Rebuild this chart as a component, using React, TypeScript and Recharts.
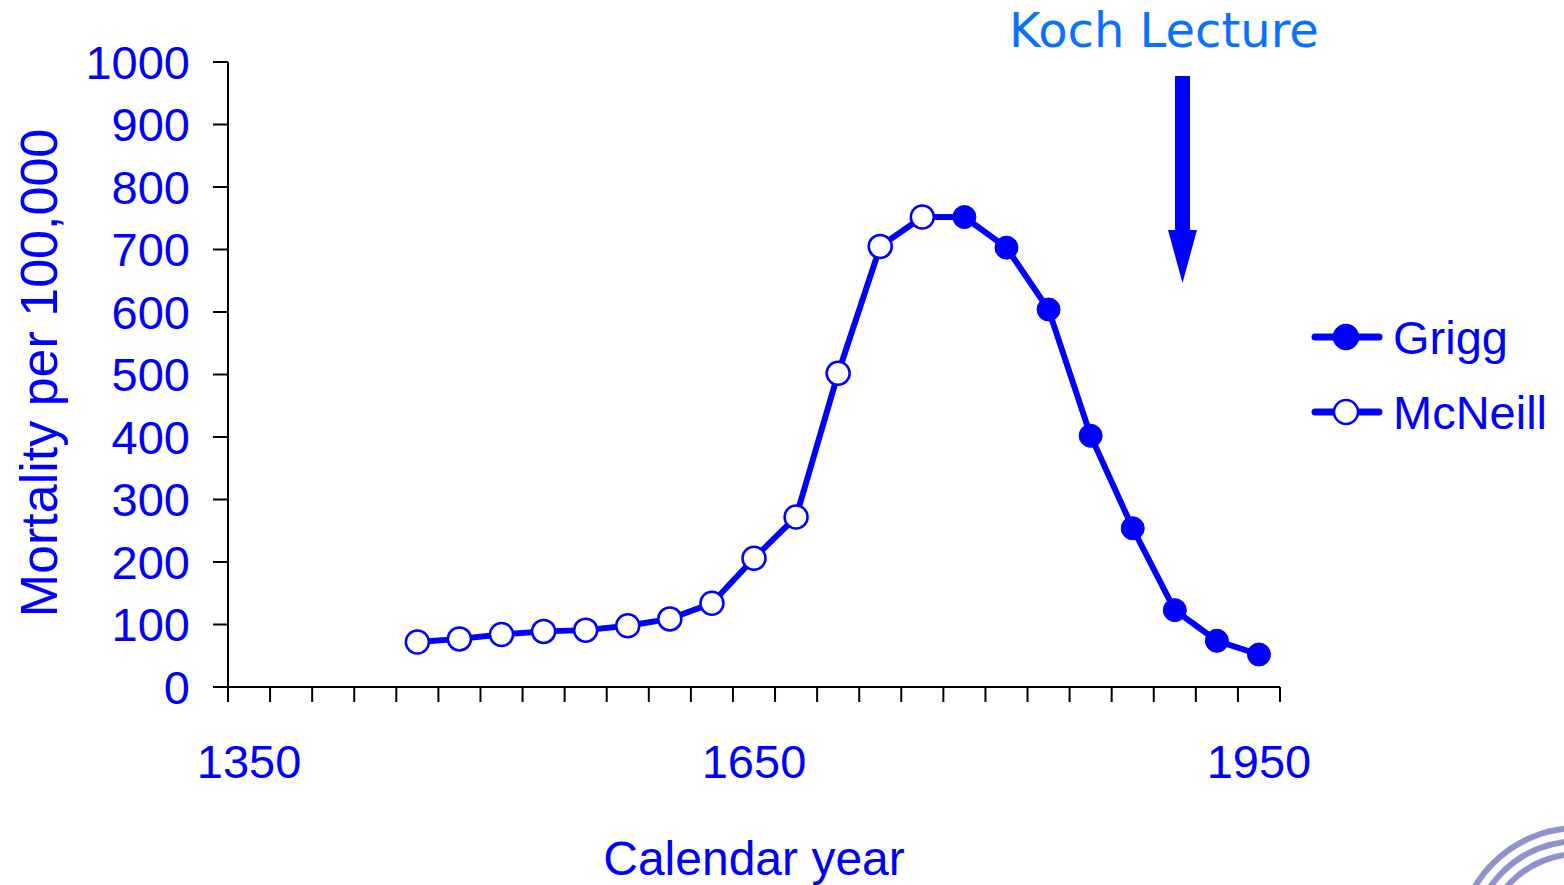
import React from 'react'
import { Legend, Line, LineChart, XAxis, YAxis } from 'recharts'

// categories along the year axis (25-year periods)
const periods = [
  1350, 1375, 1400, 1425, 1450, 1475, 1500, 1525, 1550, 1575, 1600, 1625, 1650,
  1675, 1700, 1725, 1750, 1775, 1800, 1825, 1850, 1875, 1900, 1925, 1950,
]
const years = [
  1450, 1475, 1500, 1525, 1550, 1575, 1600, 1625, 1650, 1675, 1700, 1725, 1750,
  1775, 1800, 1825, 1850, 1875, 1900, 1925, 1950,
]
// McNeill (open circles), Grigg (filled circles); Grigg picks up where McNeill ends
const mcneill = [72, 77, 84, 89, 91, 98, 109, 134, 206, 272, 502, 705, 752, null, null, null, null, null, null, null, null]
const grigg = [null, null, null, null, null, null, null, null, null, null, null, null, 752, 752, 703, 604, 402, 254, 123, 74, 52]

const yTicks = [0, 100, 200, 300, 400, 500, 600, 700, 800, 900, 1000]
const yearLabels = [1350, 1650, 1950]

const BLUE = '#0000ff'
const FONT = '"Liberation Sans", Arial, sans-serif'

const data = years.map((year, i) => ({ year, mcneill: mcneill[i], grigg: grigg[i] }))

// tick marks sit between the period categories, like the original spreadsheet chart
const tickEdges = periods.map((p) => p - 12.5).concat(periods[periods.length - 1] + 12.5)
const domain: [number, number] = [tickEdges[0], tickEdges[tickEdges.length - 1]]

const openDot = (props: any) => {
  if (props.value == null || props.cy == null) return <g key={`m-${props.index}`} />
  return <circle key={`m-${props.index}`} cx={props.cx} cy={props.cy} r={11.5} fill="#fff" stroke={BLUE} strokeWidth={2.5} />
}

const filledDot = (props: any) => {
  if (props.value == null || props.cy == null || props.payload.mcneill != null) return <g key={`g-${props.index}`} />
  return <circle key={`g-${props.index}`} cx={props.cx} cy={props.cy} r={11.5} fill={BLUE} stroke={BLUE} strokeWidth={1} />
}

const LegendBox = (props: any) => {
  const items = props.payload || []
  return (
    <svg width={254} height={150}>
      {items.map((item: any, i: number) => {
        const cy = 27 + i * 75
        const filled = item.dataKey === 'grigg'
        return (
          <g key={item.value}>
            <line x1={10} x2={74} y1={cy} y2={cy} stroke={BLUE} strokeWidth={7} strokeLinecap="round" />
            <circle cx={41} cy={cy} r={12} fill={filled ? BLUE : '#fff'} stroke={BLUE} strokeWidth={2.5} />
            <text x={88} y={cy + 17} fill={BLUE} fontSize={47} fontFamily={FONT}>
              {item.value}
            </text>
          </g>
        )
      })}
    </svg>
  )
}

const YearTick = (props: any) => (
  <text x={props.x} y={props.y + 68} textAnchor="middle" fill={BLUE} fontSize={47} fontFamily={FONT}>
    {props.payload.value}
  </text>
)

const NoLabel = () => <g />

export default function App() {
  return (
    <div style={{ position: 'absolute', left: 0, top: 0, width: 1564, height: 885, background: '#fff' }}>
      <LineChart
        width={1564}
        height={885}
        data={data}
        margin={{ top: 62, right: 284, bottom: 0, left: 0 }}
      >
        <XAxis
          xAxisId="edges"
          dataKey="year"
          type="number"
          domain={domain}
          ticks={tickEdges}
          interval={0}
          tick={NoLabel}
          tickSize={15}
          height={15}
          stroke="#000"
          strokeWidth={2}
        />
        <XAxis
          xAxisId="labels"
          dataKey="year"
          type="number"
          domain={domain}
          ticks={yearLabels}
          interval={0}
          tickLine={false}
          axisLine={false}
          height={183}
          tick={<YearTick />}
          label={{
            content: () => (
              <text x={754} y={875} textAnchor="middle" fill={BLUE} fontSize={48} fontFamily={FONT}>
                Calendar year
              </text>
            ),
          }}
        />
        <YAxis
          type="number"
          domain={[0, 1000]}
          ticks={yTicks}
          interval={0}
          width={228}
          tickSize={15}
          tickMargin={23}
          stroke="#000"
          strokeWidth={2}
          tick={{ fill: BLUE, fontSize: 47, fontFamily: FONT }}
          label={{
            content: () => (
              <text
                x={39}
                y={373}
                transform="rotate(-90 39 373)"
                textAnchor="middle"
                dominantBaseline="central"
                fill={BLUE}
                fontSize={52}
                fontFamily={FONT}
              >
                Mortality per 100,000
              </text>
            ),
          }}
        />
        <Legend
          layout="vertical"
          align="center"
          verticalAlign="middle"
          wrapperStyle={{ left: 1305, top: 310, width: 254 }}
          content={<LegendBox />}
        />
        <Line
          xAxisId="edges"
          dataKey="grigg"
          name="Grigg"
          stroke={BLUE}
          strokeWidth={6}
          dot={filledDot}
          activeDot={false}
          isAnimationActive={false}
        />
        <Line
          xAxisId="edges"
          dataKey="mcneill"
          name="McNeill"
          stroke={BLUE}
          strokeWidth={6}
          dot={openDot}
          activeDot={false}
          isAnimationActive={false}
        />
      </LineChart>
      <svg width={1564} height={885} style={{ position: 'absolute', left: 0, top: 0, pointerEvents: 'none' }}>
        <text x={1164} y={47} textAnchor="middle" fill="#0a70ff" fontSize={48} fontFamily='"DejaVu Sans", Verdana, sans-serif'>
          Koch Lecture
        </text>
        <rect x={1175} y={76} width={15} height={156} fill={BLUE} />
        <polygon points="1168,230 1197,230 1182.5,283" fill={BLUE} />
        <g fill="none" stroke="#8f92cc" strokeWidth={6}>
          <circle cx={1578} cy={948} r={120} />
          <circle cx={1578} cy={948} r={107} />
          <circle cx={1578} cy={948} r={94} />
        </g>
      </svg>
    </div>
  )
}
